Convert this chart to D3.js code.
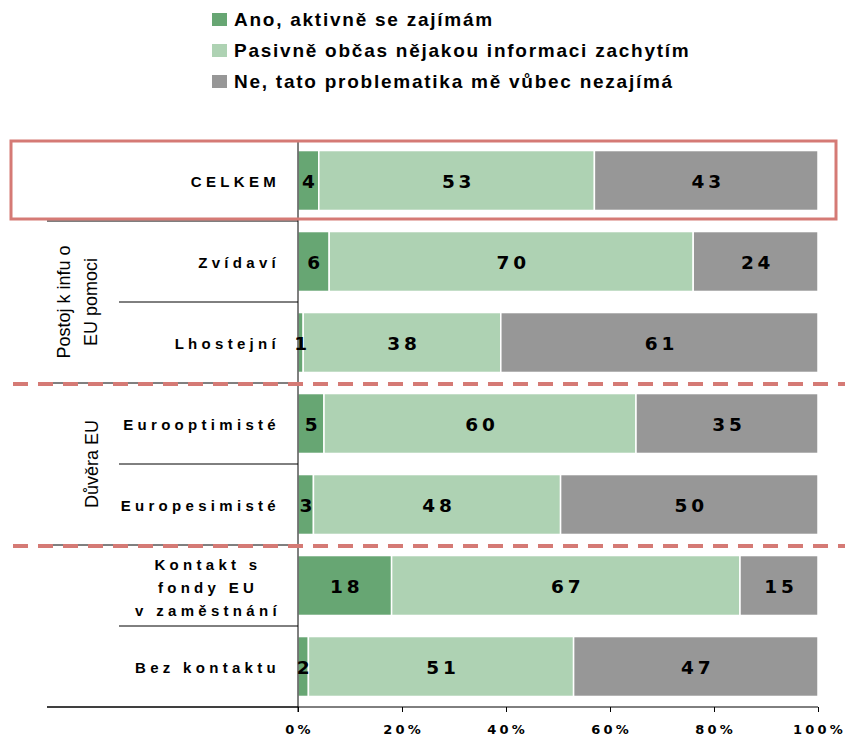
<!DOCTYPE html>
<html lang="cs">
<head>
<meta charset="UTF-8">
<title>Zájem o informace o EU</title>
<script src="https://cdn.jsdelivr.net/npm/d3@7"></script>
<style>
  body { margin: 0; background: #fff; }
  svg text { font-family: "Liberation Sans", Arial, sans-serif; fill: #000; }
  svg text.num { font-family: "DejaVu Sans", Verdana, sans-serif; font-weight: bold; }
</style>
</head>
<body>
<div id="chart"></div>
<script>
// data
var categories = ["CELKEM", "Zvídaví", "Lhostejní", "Eurooptimisté", "Europesimisté", "Kontakt s|fondy EU|v zaměstnání", "Bez kontaktu"];
var seriesNames = ["Ano, aktivně se zajímám", "Pasivně občas nějakou informaci zachytím", "Ne, tato problematika mě vůbec nezajímá"];
var aktivne = [4, 6, 1, 5, 3, 18, 2];
var pasivne = [53, 70, 38, 60, 48, 67, 51];
var nezajem = [43, 24, 61, 35, 50, 15, 47];
var tickValues = [0, 0.2, 0.4, 0.6, 0.8, 1];
var groups = [
  {label: ["Postoj k infu o", "EU pomoci"], rows: [1, 2]},
  {label: ["Důvěra EU"], rows: [3, 4]}
];

var colors = ["#67a673", "#aed2b3", "#979797"];
var red = "#d57a75";

var W = 845, H = 741;
var margin = {left: 298, right: 27, top: 140, bottom: 34};

var svg = d3.select("#chart").append("svg")
    .attr("width", W)
    .attr("height", H);

var x = d3.scaleLinear().domain([0, 1]).range([margin.left, W - margin.right]);
var y = d3.scaleBand().domain(d3.range(categories.length))
    .range([margin.top, H - margin.bottom]).paddingInner(0.26).paddingOuter(0.13);

// stacked, normalised per row
var rows = categories.map(function(c, i) {
  var vals = [aktivne[i], pasivne[i], nezajem[i]];
  var tot = d3.sum(vals);
  var acc = 0;
  return vals.map(function(v, k) {
    var seg = {row: i, k: k, v: v, x0: acc / tot, x1: (acc + v) / tot};
    acc += v;
    return seg;
  });
});
var segs = d3.merge(rows);

// legend
var legend = svg.append("g").attr("transform", "translate(212,12)");
seriesNames.forEach(function(s, i) {
  var g = legend.append("g").attr("transform", "translate(0," + (i * 31) + ")");
  g.append("rect").attr("y", 1).attr("width", 15).attr("height", 13).attr("fill", colors[i]);
  g.append("text").attr("x", 22).attr("y", 14)
    .style("font-size", "19px").style("font-weight", "bold")
    .style("letter-spacing", "1.75px").text(s);
});

// bars
svg.append("g").selectAll("rect")
  .data(segs).enter().append("rect")
  .attr("x", function(d) { return x(d.x0); })
  .attr("y", function(d) { return y(d.row); })
  .attr("width", function(d) { return x(d.x1) - x(d.x0); })
  .attr("height", y.bandwidth())
  .attr("fill", function(d) { return colors[d.k]; })
  .attr("stroke", "#fff")
  .attr("stroke-width", 1.5);

// value labels
svg.append("g").selectAll("text")
  .data(segs).enter().append("text")
  .attr("class", "num")
  .attr("x", function(d) { return (x(d.x0) + x(d.x1)) / 2 + 2; })
  .attr("y", function(d) { return y(d.row) + y.bandwidth() / 2 + 7; })
  .attr("text-anchor", "middle")
  .style("font-size", "18.5px")
  .style("letter-spacing", "3.8px")
  .text(function(d) { return d.v; });

// category labels
var step = y.step();
categories.forEach(function(c, i) {
  var lines = c.split("|");
  var cy = y(i) + y.bandwidth() / 2;
  var t = svg.append("text")
    .attr("text-anchor", "middle")
    .style("font-size", "15px").style("font-weight", "bold")
    .style("letter-spacing", "4.3px");
  if (lines.length === 1) {
    t.attr("x", 280).attr("y", cy + 6.5).attr("text-anchor", "end").text(c);
  } else {
    lines.forEach(function(l, j) {
      t.append("tspan").attr("x", 208).attr("y", cy + 7.5 + (j - 1) * 23).text(l);
    });
  }
});

// row separators on the left
var sepY = d3.range(1, categories.length + 1).map(function(i) { return y(i - 1) + y.bandwidth() + (step - y.bandwidth()) / 2; });
sepY.forEach(function(sy, i) {
  var inner = (i === 1 || i === 3 || i === 5);
  svg.append("line")
    .attr("x1", inner ? 119 : 47).attr("x2", x(0))
    .attr("y1", sy).attr("y2", sy)
    .attr("stroke", "#000").attr("stroke-width", 1);
});

// group labels (rotated)
groups.forEach(function(g) {
  var cy = (y(g.rows[0]) + y(g.rows[g.rows.length - 1]) + y.bandwidth()) / 2;
  var n = g.label.length;
  g.label.forEach(function(l, j) {
    var lx = n === 1 ? 98 : 70 + j * 27;
    svg.append("text")
      .attr("transform", "translate(" + lx + "," + cy + ") rotate(-90)")
      .attr("text-anchor", "middle")
      .style("font-size", "18px")
      .text(l);
  });
});

// x axis
var xAxis = d3.axisBottom(x).tickValues(tickValues).tickFormat(d3.format(".0%")).tickSize(5);
var ax = svg.append("g")
  .attr("transform", "translate(0," + (H - margin.bottom) + ")")
  .call(xAxis);
ax.select(".domain").remove();
ax.selectAll(".tick line").attr("stroke", "#000");
ax.selectAll(".tick text")
  .attr("class", "num")
  .attr("y", 18)
  .attr("dx", "1px")
  .style("font-size", "13px")
  .style("letter-spacing", "3.2px");
svg.append("line")
  .attr("x1", 47).attr("x2", x(1))
  .attr("y1", H - margin.bottom).attr("y2", H - margin.bottom)
  .attr("stroke", "#000");

// y axis line
svg.append("line")
  .attr("x1", x(0)).attr("x2", x(0))
  .attr("y1", margin.top).attr("y2", H - margin.bottom + 5)
  .attr("stroke", "#000");

// dashed group dividers
[sepY[2], sepY[4]].forEach(function(sy) {
  svg.append("line")
    .attr("x1", 13).attr("x2", W)
    .attr("y1", sy + 1).attr("y2", sy + 1)
    .attr("stroke", red).attr("stroke-width", 4)
    .attr("stroke-dasharray", "15,10");
});

// highlight box around CELKEM
svg.append("rect")
  .attr("x", 11).attr("y", margin.top + 1)
  .attr("width", 825).attr("height", sepY[0] - margin.top - 3)
  .attr("fill", "none")
  .attr("stroke", red).attr("stroke-width", 3);
</script>
</body>
</html>
